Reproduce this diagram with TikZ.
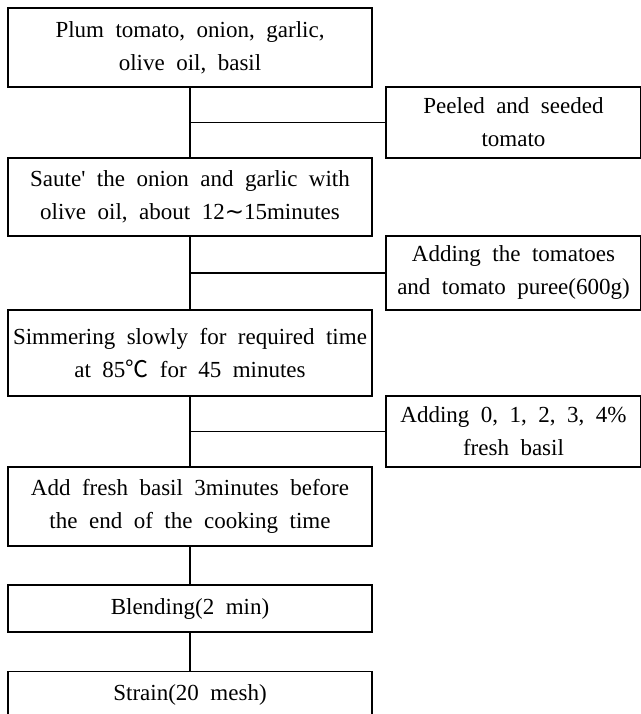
\documentclass[tikz,border=0pt]{standalone}
\usepackage{fontspec}
\setmainfont[WordSpace=2.0]{Liberation Serif}
\newfontfamily\cjk{Noto Sans CJK KR}
\newfontfamily\djv{DejaVu Sans}
\begin{document}
\begin{tikzpicture}[x=1pt,y=-1pt,
  every node/.style={font=\fontsize{23}{33}\selectfont},
  lbox/.style={draw, line width=1.1pt, rectangle, inner sep=0pt, minimum width=364pt, align=center},
  sbox/.style={draw, line width=1.1pt, rectangle, inner sep=0pt, minimum width=255pt, align=center},
  conn/.style={line width=1.1pt}]
\useasboundingbox (0,0) rectangle (640,714);
\node[lbox, minimum height=79pt] (b1) at (190,47.5) {Plum tomato, onion, garlic,\\olive oil, basil};
\node[sbox, minimum height=71pt] (s1) at (513.5,122.5) {Peeled and seeded\\tomato};
\node[lbox, minimum height=78pt] (b2) at (190,197) {Saute\textquotesingle{} the onion and garlic with\\olive oil, about 12{\djv ∼}15minutes};
\node[sbox, minimum height=74pt] (s2) at (513.5,273) {Adding the tomatoes\\and tomato puree(600g)};
\node[lbox, minimum height=86pt] (b3) at (190,353) {Simmering slowly for required time\\at 85{\cjk ℃} for 45 minutes};
\node[sbox, minimum height=71pt] (s3) at (513.5,431.5) {Adding 0, 1, 2, 3, 4\%\\fresh basil};
\node[lbox, minimum height=79pt] (b4) at (190,506.5) {Add fresh basil 3minutes before\\the end of the cooking time};
\node[lbox, minimum height=47pt] (b5) at (190,608.5) {Blending(2 min)};
\node[lbox, anchor=north, text height=29pt, text depth=23pt] (b6) at (190,671) {Strain(20 mesh)};
\draw[conn] (b1.south) -- (b2.north);
\draw[conn] (b1.south |- s1.west) -- (s1.west);
\draw[conn] (b2.south) -- (b3.north);
\draw[conn] (b2.south |- s2.west) -- (s2.west);
\draw[conn] (b3.south) -- (b4.north);
\draw[conn] (b3.south |- s3.west) -- (s3.west);
\draw[conn] (b4.south) -- (b5.north);
\draw[conn] (b5.south) -- (b6.north);
\end{tikzpicture}
\end{document}
